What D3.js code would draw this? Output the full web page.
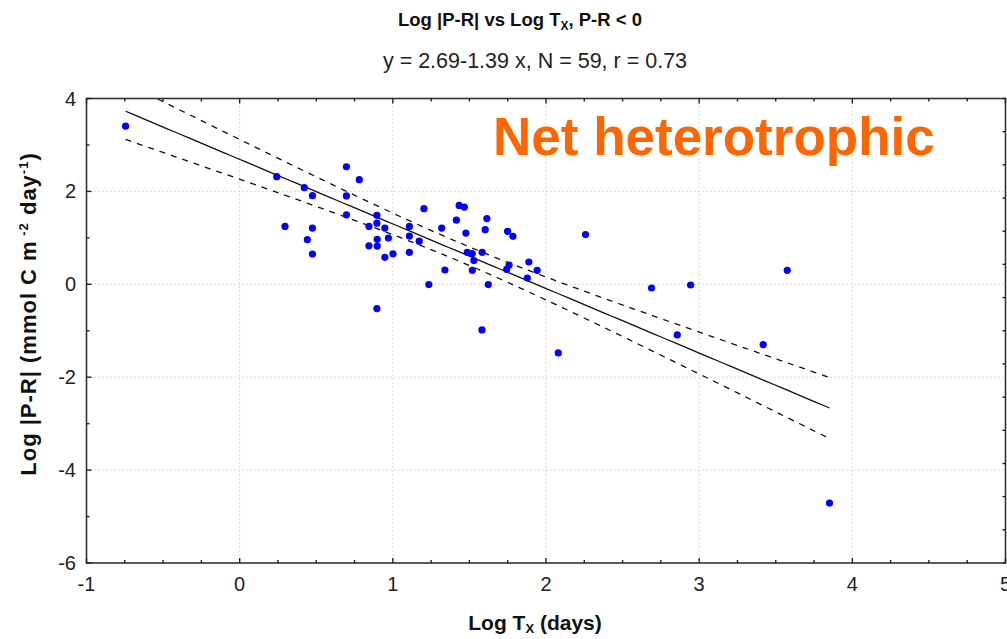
<!DOCTYPE html>
<html>
<head>
<meta charset="utf-8">
<script src="https://cdn.jsdelivr.net/npm/d3@7"></script>
<style>
  body { margin: 0; background: #fff; }
  svg { display: block; }
  .lbl { font-family: 'Liberation Sans', Arial, sans-serif; }
</style>
</head>
<body>
<svg id="chart" width="1007" height="639"></svg>
<script>
// Scatter data (Log Tx, Log |P-R|)
const logTx = [
  -0.745, 0.242, 0.422, 0.475, 0.697, 0.781, 0.697, 0.697, 0.296, 0.475,
  0.442, 0.475, 0.896, 0.896, 0.844, 0.948, 0.898, 0.971, 0.844, 0.898,
  0.948, 1.001, 0.896, 1.203, 1.108, 1.108, 1.172, 1.108, 1.319, 1.415,
  1.433, 1.467, 1.477, 1.603, 1.614, 1.749, 1.784, 1.486, 1.518, 1.529,
  1.583, 1.519, 1.340, 1.235, 1.623, 1.759, 1.743, 1.888, 1.942, 1.878,
  2.258, 2.689, 1.582, 2.080, 2.944, 3.575, 2.857, 3.418, 3.851
];
const logPR = [
  3.404, 2.316, 2.080, 1.908, 2.531, 2.252, 1.903, 1.495, 1.247, 1.211,
  0.961, 0.652, 1.484, 1.316, 1.247, 1.211, 0.968, 0.996, 0.828, 0.824,
  0.581, 0.656, -0.523, 1.628, 1.247, 1.039, 0.929, 0.688, 1.211, 1.381,
  1.699, 1.662, 1.103, 1.176, 1.415, 1.140, 1.032, 0.688, 0.660, 0.510,
  0.688, 0.301, 0.308, -0.006, -0.006, 0.413, 0.323, 0.480, 0.301, 0.133,
  1.071, -0.080, -0.983, -1.477, -0.015, 0.301, -1.090, -1.297, -4.710
];

// Fit stated in the subtitle, and confidence band shape
const intercept = 2.69;
const slope = -1.39;
const bandCentre = 1.45;      // x where the band is narrowest
const bandHalfMin = 0.2;      // half width at that x
const bandSpread = 0.068;     // growth of squared half width with distance

const xTicks = [-1, 0, 1, 2, 3, 4, 5];
const yTicks = [-6, -4, -2, 0, 2, 4];
const xGrid = [0, 1, 2, 3, 4];
const yGrid = [-4, -2, 0, 2];

const svg = d3.select('#chart');
const plotLeft = 86.5, plotRight = 1005.5, plotTop = 98.5, plotBottom = 563;

const x = d3.scaleLinear().domain([-1, 5]).range([plotLeft, plotRight]);
const y = d3.scaleLinear().domain([-6, 4]).range([plotBottom, plotTop]);

// Titles
const title = svg.append('text').attr('class', 'lbl')
    .attr('x', 520).attr('y', 26)
    .attr('text-anchor', 'middle')
    .attr('font-size', 18.5).attr('font-weight', 'bold').attr('fill', '#111');
title.append('tspan').text('Log |P-R| vs Log T');
title.append('tspan').attr('font-size', 12).attr('dy', 4).text('X');
title.append('tspan').attr('dy', -4).text(', P-R < 0');

svg.append('text').attr('class', 'lbl')
    .attr('x', 535).attr('y', 68)
    .attr('text-anchor', 'middle')
    .attr('font-size', 21.5).attr('fill', '#222')
    .text('y = 2.69-1.39 x, N = 59, r = 0.73');

// Gridlines
svg.append('g').selectAll('line')
    .data(xGrid).enter().append('line')
    .attr('x1', d => x(d)).attr('x2', d => x(d))
    .attr('y1', plotTop).attr('y2', plotBottom)
    .attr('stroke', '#b8b8b8').attr('stroke-dasharray', '1,3');
svg.append('g').selectAll('line')
    .data(yGrid).enter().append('line')
    .attr('x1', plotLeft).attr('x2', plotRight)
    .attr('y1', d => y(d)).attr('y2', d => y(d))
    .attr('stroke', '#b8b8b8').attr('stroke-dasharray', '1,3');

// Net heterotrophic label
svg.append('text')
    .attr('x', 493).attr('y', 155)
    .attr('font-family', 'Liberation Sans, Arial, sans-serif')
    .attr('font-size', 53).attr('font-weight', 'bold')
    .attr('fill', '#ff6600')
    .text('Net heterotrophic');

// Regression line and confidence band
const xMin = d3.min(logTx), xMax = d3.max(logTx);
const fitX = d3.range(0, 101).map(i => xMin + (xMax - xMin) * i / 100);
const halfWidth = t => Math.sqrt(bandHalfMin * bandHalfMin + bandSpread * (t - bandCentre) * (t - bandCentre));

svg.append('clipPath').attr('id', 'plot-clip')
    .append('rect').attr('x', plotLeft).attr('y', plotTop)
    .attr('width', plotRight - plotLeft).attr('height', plotBottom - plotTop);

const line = d3.line().x(d => x(d[0])).y(d => y(d[1]));
const lines = svg.append('g').attr('clip-path', 'url(#plot-clip)');
lines.append('path')
    .attr('d', line(fitX.map(t => [t, intercept + slope * t])))
    .attr('fill', 'none').attr('stroke', '#111').attr('stroke-width', 1.3);
[1, -1].forEach(sign => {
    lines.append('path')
        .attr('d', line(fitX.map(t => [t, intercept + slope * t + sign * halfWidth(t)])))
        .attr('fill', 'none').attr('stroke', '#111').attr('stroke-width', 1.3)
        .attr('stroke-dasharray', '6,6');
});

// Points
svg.append('g').selectAll('circle')
    .data(logTx.map((d, i) => [d, logPR[i]]))
    .enter().append('circle')
    .attr('cx', d => x(d[0])).attr('cy', d => y(d[1]))
    .attr('r', 3.6).attr('fill', '#0000ff');

// Frame
svg.append('rect')
    .attr('x', plotLeft).attr('y', plotTop)
    .attr('width', plotRight - plotLeft).attr('height', plotBottom - plotTop)
    .attr('fill', 'none').attr('stroke', '#333').attr('stroke-width', 1.6);

// Tick marks (inward)
const ticks = svg.append('g').attr('stroke', '#222').attr('stroke-width', 1.4);
d3.range(-1, 5.001, 0.25).forEach(v => {
    const len = Number.isInteger(v) ? 5 : 3;
    ticks.append('line').attr('x1', x(v)).attr('x2', x(v)).attr('y1', plotBottom).attr('y2', plotBottom - len);
    ticks.append('line').attr('x1', x(v)).attr('x2', x(v)).attr('y1', plotTop).attr('y2', plotTop + len);
});
d3.range(-6, 4.001, 1).forEach(v => {
    const len = v % 2 === 0 ? 5 : 3;
    ticks.append('line').attr('x1', plotLeft).attr('x2', plotLeft + len).attr('y1', y(v)).attr('y2', y(v));
});
d3.range(0, 15).forEach(i => {
    const v = 4 - i * 10 / 14;
    ticks.append('line').attr('x1', plotRight).attr('x2', plotRight - 3).attr('y1', y(v)).attr('y2', y(v));
});

// Tick labels
svg.append('g').selectAll('text')
    .data(xTicks).enter().append('text').attr('class', 'lbl')
    .attr('x', d => x(d)).attr('y', 591)
    .attr('text-anchor', 'middle').attr('font-size', 20).attr('fill', '#222')
    .text(d => String(d));
svg.append('g').selectAll('text')
    .data(yTicks).enter().append('text').attr('class', 'lbl')
    .attr('x', 76).attr('y', d => y(d) + 7)
    .attr('text-anchor', 'end').attr('font-size', 20).attr('fill', '#222')
    .text(d => String(d));

// Axis titles
const xl = svg.append('text').attr('class', 'lbl')
    .attr('x', 535).attr('y', 630)
    .attr('text-anchor', 'middle').attr('font-size', 21).attr('font-weight', 'bold').attr('fill', '#111');
xl.append('tspan').text('Log T');
xl.append('tspan').attr('font-size', 13).attr('dy', 3).text('X');
xl.append('tspan').attr('dy', -3).text(' (days)');

const yl = svg.append('text').attr('class', 'lbl')
    .attr('transform', 'translate(36,314) rotate(-90)')
    .attr('text-anchor', 'middle').attr('font-size', 22).attr('font-weight', 'bold')
    .attr('letter-spacing', 1).attr('fill', '#111');
yl.append('tspan').text('Log |P-R| (mmol C m');
yl.append('tspan').attr('font-size', 13).attr('dy', -8).text(' -2');
yl.append('tspan').attr('dy', 8).text('  day');
yl.append('tspan').attr('font-size', 13).attr('dy', -8).text('-1');
yl.append('tspan').attr('dy', 8).text(')');
</script>
</body>
</html>
